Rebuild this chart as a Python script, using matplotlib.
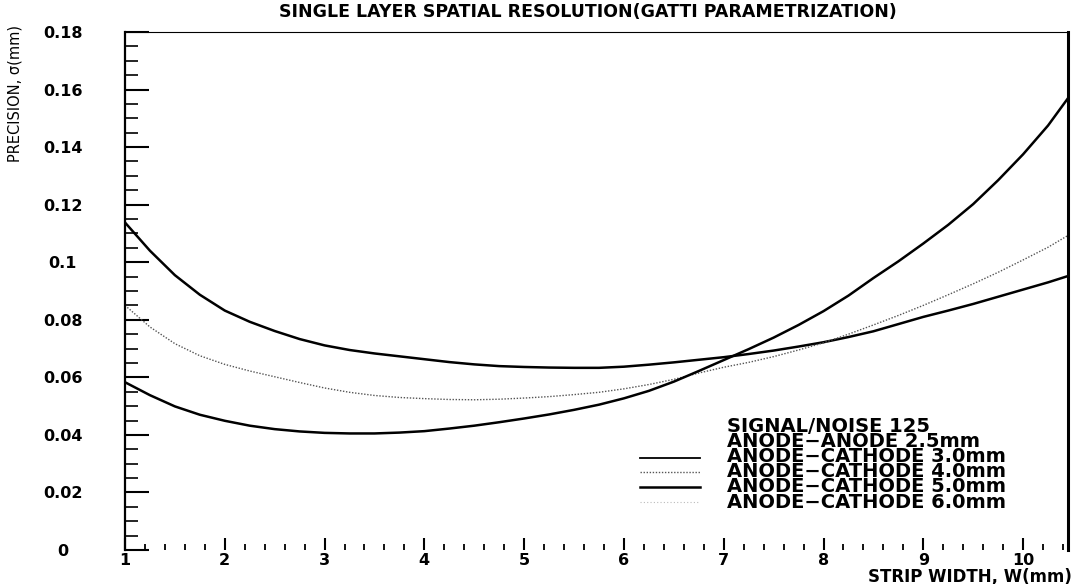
import matplotlib
matplotlib.use("Agg")
import matplotlib.pyplot as plt
from matplotlib.lines import Line2D
from matplotlib.ticker import MultipleLocator, FixedLocator

# Strip width (mm) sample points
strip_width = [1.0, 1.25, 1.5, 1.75, 2.0, 2.25, 2.5, 2.75, 3.0, 3.25, 3.5, 3.75,
               4.0, 4.25, 4.5, 4.75, 5.0, 5.25, 5.5, 5.75, 6.0, 6.25, 6.5, 6.75,
               7.0, 7.25, 7.5, 7.75, 8.0, 8.25, 8.5, 8.75, 9.0, 9.25, 9.5, 9.75,
               10.0, 10.25, 10.45]

# Single layer precision sigma (mm) for each anode-cathode gap
sigma_flat = [0.1138, 0.1040, 0.0955, 0.0887, 0.0832, 0.0793, 0.0761, 0.0733,
              0.0711, 0.0695, 0.0683, 0.0673, 0.0663, 0.0653, 0.0645, 0.0639,
              0.0636, 0.0634, 0.0633, 0.0633, 0.0637, 0.0644, 0.0652, 0.0661,
              0.0670, 0.0681, 0.0693, 0.0707, 0.0722, 0.0740, 0.0760, 0.0785,
              0.0810, 0.0832, 0.0855, 0.0880, 0.0905, 0.0930, 0.0952]
sigma_dotted = [0.0850, 0.0775, 0.0717, 0.0675, 0.0645, 0.0622, 0.0602, 0.0582,
                0.0563, 0.0548, 0.0537, 0.0530, 0.0526, 0.0523, 0.0522, 0.0524,
                0.0528, 0.0533, 0.0540, 0.0548, 0.0560, 0.0575, 0.0593, 0.0615,
                0.0635, 0.0652, 0.0672, 0.0695, 0.0720, 0.0750, 0.0782, 0.0815,
                0.0850, 0.0887, 0.0925, 0.0965, 0.1008, 0.1052, 0.1093]
sigma_steep = [0.0583, 0.0538, 0.0499, 0.0470, 0.0449, 0.0432, 0.0420, 0.0412,
               0.0407, 0.0405, 0.0405, 0.0408, 0.0413, 0.0422, 0.0432, 0.0444,
               0.0457, 0.0471, 0.0487, 0.0505, 0.0527, 0.0553, 0.0585, 0.0622,
               0.0660, 0.0698, 0.0738, 0.0782, 0.0830, 0.0884, 0.0945, 0.1003,
               0.1065, 0.1130, 0.1202, 0.1285, 0.1375, 0.1475, 0.1570]

y_ticks = [0, 0.02, 0.04, 0.06, 0.08, 0.1, 0.12, 0.14, 0.16, 0.18]
y_tick_labels = ["0", "0.02", "0.04", "0.06", "0.08", "0.1", "0.12", "0.14", "0.16", "0.18"]
x_ticks = [1, 2, 3, 4, 5, 6, 7, 8, 9, 10]

legend_lines = ["SIGNAL/NOISE 125",
                "ANODE\u2212ANODE 2.5mm",
                "ANODE\u2212CATHODE 3.0mm",
                "ANODE\u2212CATHODE 4.0mm",
                "ANODE\u2212CATHODE 5.0mm",
                "ANODE\u2212CATHODE 6.0mm"]

W, H = 1076, 584
fig = plt.figure(figsize=(W / 100, H / 100), dpi=100)
left, right, top, bottom = 125, 1068, 32, 550
ax = fig.add_axes([left / W, 1 - bottom / H, (right - left) / W, (bottom - top) / H])

ax.plot(strip_width, sigma_flat, color="black", lw=1.8, solid_joinstyle="round")
ax.plot(strip_width, sigma_dotted, color="#555555", lw=1.0, ls=(0, (1, 1.2)))
ax.plot(strip_width, sigma_steep, color="black", lw=1.8, solid_joinstyle="round")

ax.set_xlim(1, 10.45)
ax.set_ylim(0, 0.18)

ax.xaxis.set_major_locator(FixedLocator(x_ticks))
ax.xaxis.set_minor_locator(MultipleLocator(0.2))
ax.yaxis.set_major_locator(FixedLocator(y_ticks))
ax.yaxis.set_minor_locator(MultipleLocator(0.005))
ax.set_yticklabels(y_tick_labels)
ax.set_xticklabels([str(v) for v in x_ticks])

ax.tick_params(axis="y", which="major", direction="in", length=17, width=1.5,
               labelsize=11.5, pad=45)
ax.tick_params(axis="y", which="minor", direction="in", length=9, width=1.2)
ax.tick_params(axis="x", which="major", direction="in", length=9, width=1.5,
               labelsize=11.5, pad=2)
ax.tick_params(axis="x", which="minor", direction="in", length=4, width=1.3)
for lab in ax.get_yticklabels():
    lab.set_fontweight("bold")
    lab.set_horizontalalignment("center")
for lab in ax.get_xticklabels():
    lab.set_fontweight("bold")

ax.spines["bottom"].set_visible(False)
ax.spines["left"].set_linewidth(1.6)
ax.spines["top"].set_linewidth(0.8)
ax.spines["right"].set_linewidth(2.2)

fig.text(588 / W, 1 - 12 / H, "SINGLE LAYER SPATIAL RESOLUTION(GATTI PARAMETRIZATION)",
         ha="center", va="center", fontsize=12.5, fontweight="bold")
fig.text(1072 / W, 1 - 577 / H, "STRIP WIDTH, W(mm)", ha="right", va="center",
         fontsize=12, fontweight="bold")
fig.text(15 / W, 1 - 93 / H, "PRECISION, \u03c3(mm)", rotation=90,
         ha="center", va="center", fontsize=10.5)

# Legend: one text block plus the line keys to its left
fig.text(727 / W, 1 - 417 / H, "\n".join(legend_lines), ha="left", va="top",
         fontsize=14, fontweight="bold", linespacing=0.74)

key_styles = [dict(color="black", lw=1.3),
              dict(color="#555555", lw=1.0, ls=(0, (1, 1.2))),
              dict(color="black", lw=1.8),
              dict(color="#bbbbbb", lw=0.8, ls=(0, (1, 2)))]
key_rows = [458, 472, 487, 502]
for row, style in zip(key_rows, key_styles):
    fig.add_artist(Line2D([640 / W, 700 / W], [1 - row / H, 1 - row / H],
                          transform=fig.transFigure, **style))

fig.savefig("out.png", dpi=100)
